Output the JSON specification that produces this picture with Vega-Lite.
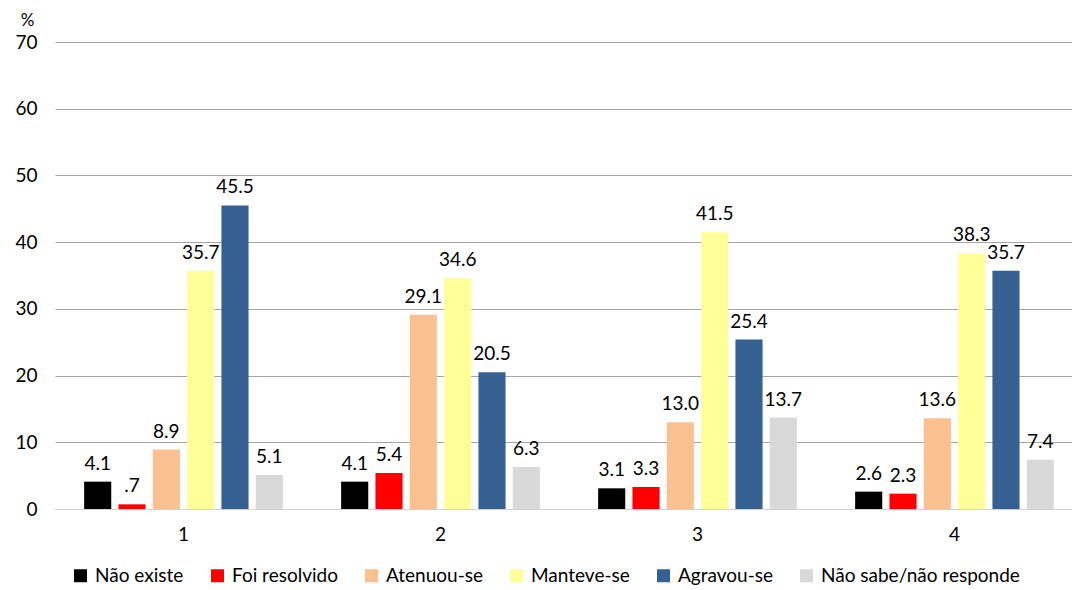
{
  "$schema": "https://vega.github.io/schema/vega-lite/v6.json",
  "autosize": {"type": "none"},
  "width": 1028,
  "height": 467,
  "padding": {"left": 55, "top": 42, "right": 0, "bottom": 81},
  "background": "white",
  "config": {
    "font": "Lato",
    "view": {"stroke": null}
  },
  "data": {
    "values": [
      {"grupo": "1", "resposta": "Não existe", "valor": 4.1},
      {"grupo": "1", "resposta": "Foi resolvido", "valor": 0.7},
      {"grupo": "1", "resposta": "Atenuou-se", "valor": 8.9},
      {"grupo": "1", "resposta": "Manteve-se", "valor": 35.7},
      {"grupo": "1", "resposta": "Agravou-se", "valor": 45.5},
      {"grupo": "1", "resposta": "Não sabe/não responde", "valor": 5.1},
      {"grupo": "2", "resposta": "Não existe", "valor": 4.1},
      {"grupo": "2", "resposta": "Foi resolvido", "valor": 5.4},
      {"grupo": "2", "resposta": "Atenuou-se", "valor": 29.1},
      {"grupo": "2", "resposta": "Manteve-se", "valor": 34.6},
      {"grupo": "2", "resposta": "Agravou-se", "valor": 20.5},
      {"grupo": "2", "resposta": "Não sabe/não responde", "valor": 6.3},
      {"grupo": "3", "resposta": "Não existe", "valor": 3.1},
      {"grupo": "3", "resposta": "Foi resolvido", "valor": 3.3},
      {"grupo": "3", "resposta": "Atenuou-se", "valor": 13.0},
      {"grupo": "3", "resposta": "Manteve-se", "valor": 41.5},
      {"grupo": "3", "resposta": "Agravou-se", "valor": 25.4},
      {"grupo": "3", "resposta": "Não sabe/não responde", "valor": 13.7},
      {"grupo": "4", "resposta": "Não existe", "valor": 2.6},
      {"grupo": "4", "resposta": "Foi resolvido", "valor": 2.3},
      {"grupo": "4", "resposta": "Atenuou-se", "valor": 13.6},
      {"grupo": "4", "resposta": "Manteve-se", "valor": 38.3},
      {"grupo": "4", "resposta": "Agravou-se", "valor": 35.7},
      {"grupo": "4", "resposta": "Não sabe/não responde", "valor": 7.4}
    ]
  },
  "transform": [
    {"calculate": "datum.valor < 1 ? '.' + format(datum.valor * 10, 'd') : format(datum.valor, '.1f')", "as": "rotulo"}
  ],
  "encoding": {
    "x": {
      "field": "grupo", "type": "nominal",
      "scale": {"paddingInner": 0.2, "paddingOuter": 0.1},
      "axis": {
        "title": null, "labelAngle": 0, "ticks": false, "domainColor": "#d0d0d0", "domainWidth": 1,
        "labelFontSize": 19, "labelColor": "#000000", "labelPadding": 16, "labelFont": "Lato"
      }
    },
    "xOffset": {
      "field": "resposta", "type": "nominal",
      "sort": ["Não existe", "Foi resolvido", "Atenuou-se", "Manteve-se", "Agravou-se", "Não sabe/não responde"],
      "scale": {"paddingInner": 0.21, "paddingOuter": 0.1}
    },
    "y": {
      "field": "valor", "type": "quantitative",
      "scale": {"domain": [0, 70], "nice": false},
      "axis": {
        "title": "%", "titleAngle": 0, "titleX": -28, "titleY": -22, "titleAlign": "center", "titleBaseline": "middle",
        "titleFontSize": 17, "titleFontWeight": "normal", "titleColor": "#000000", "titleFont": "Lato",
        "values": [0, 10, 20, 30, 40, 50, 60, 70],
        "domain": false, "ticks": false, "labelPadding": 18, "labelFontSize": 19, "labelColor": "#000000", "labelFont": "Lato",
        "gridColor": "#a6a6a6", "gridWidth": 1
      }
    }
  },
  "layer": [
    {
      "mark": {"type": "bar"},
      "encoding": {
        "color": {
          "field": "resposta", "type": "nominal",
          "sort": ["Não existe", "Foi resolvido", "Atenuou-se", "Manteve-se", "Agravou-se", "Não sabe/não responde"],
          "scale": {
            "domain": ["Não existe", "Foi resolvido", "Atenuou-se", "Manteve-se", "Agravou-se", "Não sabe/não responde"],
            "range": ["#000000", "#ff0000", "#fac090", "#ffff99", "#376092", "#d9d9d9"]
          },
          "legend": {
            "title": null, "orient": "none", "direction": "horizontal", "legendX": 16, "legendY": 524,
            "symbolType": "square", "symbolSize": 169, "symbolStrokeWidth": 0, "labelFontSize": 19, "labelFont": "Lato",
            "labelColor": "#000000", "columnPadding": 24, "labelOffset": 5, "labelLimit": 400
          }
        }
      }
    },
    {
      "mark": {"type": "text", "baseline": "bottom", "dy": -8, "fontSize": 19, "color": "#000000", "font": "Lato"},
      "encoding": {"text": {"field": "rotulo"}}
    }
  ]
}
